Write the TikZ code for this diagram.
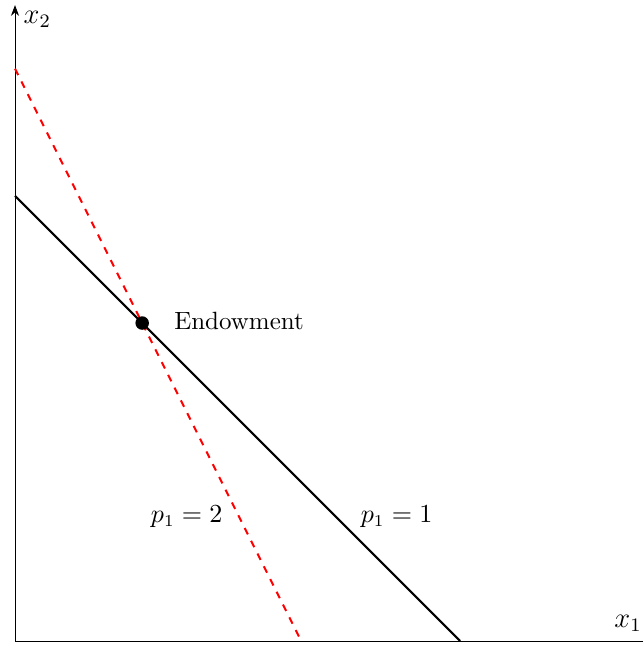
\documentclass[tikz,border=0pt]{standalone}
\usepackage{amsmath}
\usetikzlibrary{arrows.meta,positioning}
\tikzset{
 every node/.style={font=\fontsize{10.5}{12.5}\selectfont},
 axislab/.style={font=\large},
 axisline/.style={draw=black,line width=.4pt},
 budget/.style={draw=black,line width=.85pt},
 newbudget/.style={draw=red,dashed,line width=.85pt},
 endowdot/.style={circle,fill=black,inner sep=0pt,minimum size=2mm}}

\begin{document}
\begin{tikzpicture}[x=0.94cm,y=0.94cm]

\useasboundingbox (-0.236,-0.11) rectangle (9.874,10.08);
\coordinate (o) at (0,0);
\coordinate (xend) at (10.2,0);
\coordinate (yend) at (0,10);
\node[axislab] (xlab) at (9.64,0.28) {$x_1$};
\node[axislab] (ylab) at (0.35,9.78) {$x_2$};
\draw[axisline] (o)--(xend);
\draw[axisline,-{Stealth[length=1.6mm,width=1.2mm]}] (o)--(yend);

% budget lines through the endowment
\coordinate (b0) at (0,7);
\coordinate (b1) at (7,0);
\coordinate (r0) at (0,9);
\coordinate (r1) at (4.5,0);
\draw[budget] (b0)--(b1);
\draw[newbudget] (r0)--(r1);
\node[endowdot] (endow) at (2,5) {};
\node[right=0.26 of endow,yshift=1pt] (endowlab) {Endowment};

\node (plow) at (2.7,1.95) {$p_1=2$};
\node (phigh) at (6,1.95) {$p_1=1$};

\end{tikzpicture}
\end{document}
